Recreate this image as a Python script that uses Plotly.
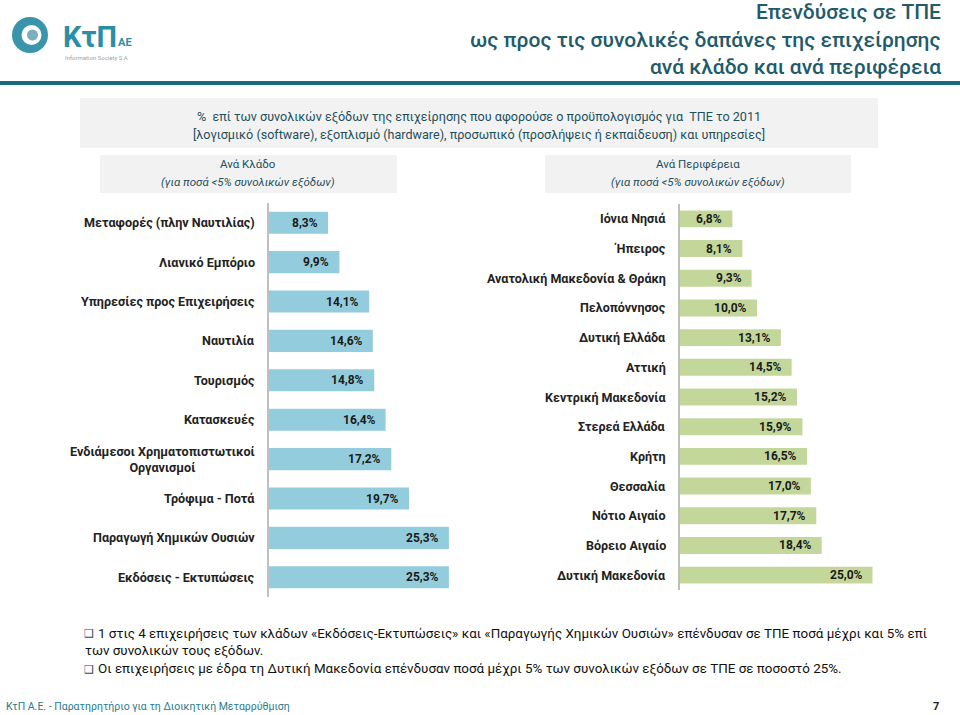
import plotly.graph_objects as go

W, H = 960, 715

sector_labels = ["Μεταφορές (πλην Ναυτιλίας)", "Λιανικό Εμπόριο", "Υπηρεσίες προς Επιχειρήσεις",
                 "Ναυτιλία", "Τουρισμός", "Κατασκευές",
                 "Ενδιάμεσοι Χρηματοπιστωτικοί<br>Οργανισμοί", "Τρόφιμα - Ποτά",
                 "Παραγωγή Χημικών Ουσιών", "Εκδόσεις - Εκτυπώσεις"]
sector_values = [8.3, 9.9, 14.1, 14.6, 14.8, 16.4, 17.2, 19.7, 25.3, 25.3]

region_labels = ["Ιόνια Νησιά", "Ήπειρος", "Ανατολική Μακεδονία & Θράκη", "Πελοπόννησος",
                 "Δυτική Ελλάδα", "Αττική", "Κεντρική Μακεδονία", "Στερεά Ελλάδα", "Κρήτη",
                 "Θεσσαλία", "Νότιο Αιγαίο", "Βόρειο Αιγαίο", "Δυτική Μακεδονία"]
region_values = [6.8, 8.1, 9.3, 10.0, 13.1, 14.5, 15.2, 15.9, 16.5, 17.0, 17.7, 18.4, 25.0]

title_lines = ["Επενδύσεις σε ΤΠΕ", "ως προς τις συνολικές δαπάνες της επιχείρησης",
               "ανά κλάδο και ανά περιφέρεια"]
subtitle_lines = ["% &nbsp;επί των συνολικών εξόδων της επιχείρησης που αφορούσε ο προϋπολογισμός για &nbsp;ΤΠΕ το 2011",
                  "[λογισμικό (software), εξοπλισμό (hardware), προσωπικό (προσλήψεις ή εκπαίδευση) και υπηρεσίες]"]
left_box = ["Ανά Κλάδο", "(για ποσά <5% συνολικών εξόδων)"]
right_box = ["Ανά Περιφέρεια", "(για ποσά <5% συνολικών εξόδων)"]
notes = ["1 στις 4 επιχειρήσεις των κλάδων «Εκδόσεις-Εκτυπώσεις» και «Παραγωγής Χημικών Ουσιών» επένδυσαν σε ΤΠΕ ποσά μέχρι και 5% επί",
         "των συνολικών τους εξόδων.",
         "Οι επιχειρήσεις με έδρα τη Δυτική Μακεδονία επένδυσαν ποσά μέχρι 5% των συνολικών εξόδων σε ΤΠΕ σε ποσοστό 25%."]
footer_text = "ΚτΠ Α.Ε. - Παρατηρητήριο για τη Διοικητική Μεταρρύθμιση"
page_no = "7"

FONT = "Roboto, 'Noto Sans', sans-serif"
TEAL_T = "#1F5B6B"
TEAL_S = "#1E4F5C"


def fmt(v):
    return f"{v:.1f}".replace(".", ",") + "%"


def px(x):
    return x / W


def py(y):
    return 1 - y / H


fig = go.Figure()
fig.add_trace(go.Bar(x=sector_values, y=sector_labels, orientation="h", width=0.56,
                     marker=dict(color="#93CDDD", line=dict(width=0)),
                     xaxis="x", yaxis="y", hoverinfo="skip"))
fig.add_trace(go.Bar(x=region_values, y=region_labels, orientation="h", width=0.57,
                     marker=dict(color="#C4D79B", line=dict(width=0)),
                     xaxis="x2", yaxis="y2", hoverinfo="skip"))

ann = []
for lab, v in zip(sector_labels, sector_values):
    ann.append(dict(x=v, y=lab, xref="x", yref="y", text=fmt(v), showarrow=False,
                    xanchor="right", xshift=-8, font=dict(family=FONT, size=12, color="#1a1a1a", weight="bold")))
    ann.append(dict(x=0, y=lab, xref="x", yref="y", text=lab, showarrow=False, align="center",
                    xanchor="right", xshift=-12, font=dict(family=FONT, size=12.6, color="#222222", weight="bold")))
for lab, v in zip(region_labels, region_values):
    ann.append(dict(x=v, y=lab, xref="x2", yref="y2", text=fmt(v), showarrow=False,
                    xanchor="right", xshift=-8, font=dict(family=FONT, size=12, color="#1a1a1a", weight="bold")))
    ann.append(dict(x=0, y=lab, xref="x2", yref="y2", text=lab, showarrow=False, align="right",
                    xanchor="right", xshift=-12, font=dict(family=FONT, size=12.5, color="#222222", weight="bold")))

# title
for t, yy in zip(title_lines, [12, 40, 67]):
    ann.append(dict(x=px(943), y=py(yy), xref="paper", yref="paper", text=t, showarrow=False,
                    xanchor="right", yanchor="middle",
                    font=dict(family=FONT, size=21, color=TEAL_T, weight=500)))
# subtitle
for t, yy in zip(subtitle_lines, [117, 135]):
    ann.append(dict(x=px(479), y=py(yy), xref="paper", yref="paper", text=t, showarrow=False,
                    xanchor="center", yanchor="middle", font=dict(family=FONT, size=12.6, color=TEAL_S)))
for box, cx in [(left_box, 248), (right_box, 698)]:
    ann.append(dict(x=px(cx), y=py(164), xref="paper", yref="paper", text=box[0], showarrow=False,
                    xanchor="center", yanchor="middle", font=dict(family=FONT, size=11.5, color=TEAL_S)))
    ann.append(dict(x=px(cx), y=py(182), xref="paper", yref="paper", text="<i>" + box[1] + "</i>",
                    showarrow=False, xanchor="center", yanchor="middle",
                    font=dict(family=FONT, size=11.5, color=TEAL_S)))
# notes
for t, xx, yy, bullet in [(notes[0], 96, 633, True), (notes[1], 83, 651, False), (notes[2], 96, 669, True)]:
    ann.append(dict(x=px(xx), y=py(yy), xref="paper", yref="paper", text=t, showarrow=False,
                    xanchor="left", yanchor="middle", font=dict(family=FONT, size=13.4, color="#111111")))
    if bullet:
        ann.append(dict(x=px(89), y=py(yy), xref="paper", yref="paper", text="❑", showarrow=False,
                        xanchor="center", yanchor="middle",
                        font=dict(family="DejaVu Sans", size=11, color="#1F3F66")))
ann.append(dict(x=px(4), y=py(706), xref="paper", yref="paper", text=footer_text, showarrow=False,
                xanchor="left", yanchor="middle", font=dict(family=FONT, size=10.5, color="#2B7A8C")))
ann.append(dict(x=px(936), y=py(706), xref="paper", yref="paper", text=page_no, showarrow=False,
                xanchor="center", yanchor="middle", font=dict(family=FONT, size=11, color="#222222", weight="bold")))
# logo text
ann.append(dict(x=px(61), y=py(37), xref="paper", yref="paper", text="KτΠ", showarrow=False,
                xanchor="left", yanchor="middle", font=dict(family=FONT, size=29, color="#2A8FA5", weight="bold")))
ann.append(dict(x=px(116), y=py(42), xref="paper", yref="paper", text="AE", showarrow=False,
                xanchor="left", yanchor="middle", font=dict(family=FONT, size=11, color="#2A8FA5", weight="bold")))
ann.append(dict(x=px(63), y=py(57), xref="paper", yref="paper", text="Information Society S.A", showarrow=False,
                xanchor="left", yanchor="middle", font=dict(family=FONT, size=6, color="#9AA5A8")))

shapes = []
def rect(x0, y0, x1, y1, color):
    shapes.append(dict(type="rect", xref="paper", yref="paper", x0=px(x0), x1=px(x1), y0=py(y1), y1=py(y0),
                       fillcolor=color, line=dict(width=0), layer="below"))

rect(0, 81, 960, 85, "#176A7E")
rect(80, 98, 878, 148, "#F2F2F2")
rect(100, 155, 397, 193, "#F2F2F2")
rect(545, 155, 851, 193, "#F2F2F2")

def circ(cx, cy, r, color):
    shapes.append(dict(type="circle", xref="paper", yref="paper", x0=px(cx - r), x1=px(cx + r),
                       y0=py(cy + r), y1=py(cy - r), fillcolor=color, line=dict(width=0)))
circ(30, 35, 18, "#3A95AA")
circ(31.5, 35, 10, "#FFFFFF")
circ(32.5, 35, 5.5, "#7FAEBB")

fig.update_layout(
    width=W, height=H, margin=dict(l=0, r=0, t=0, b=0),
    paper_bgcolor="white", plot_bgcolor="rgba(0,0,0,0)", showlegend=False,
    xaxis=dict(domain=[px(269), px(469)], range=[0, 200 / 7.11], visible=False, fixedrange=True),
    yaxis=dict(domain=[py(597), py(203)], autorange="reversed", showticklabels=False, ticks="",
               showline=True, linecolor="#BFBFBF", linewidth=1.5, showgrid=False, zeroline=False, fixedrange=True),
    xaxis2=dict(domain=[px(680), px(880)], range=[0, 200 / 7.7], visible=False, fixedrange=True, anchor="y2"),
    yaxis2=dict(domain=[py(590), py(204)], autorange="reversed", showticklabels=False, ticks="",
                showline=True, linecolor="#BFBFBF", linewidth=1.5, showgrid=False, zeroline=False, anchor="x2",
                fixedrange=True),
    annotations=ann, shapes=shapes,
)
fig.write_html("out.html", config={"displayModeBar": False},
               post_script="document.body.style.margin='0px';document.body.style.overflow='hidden';")
